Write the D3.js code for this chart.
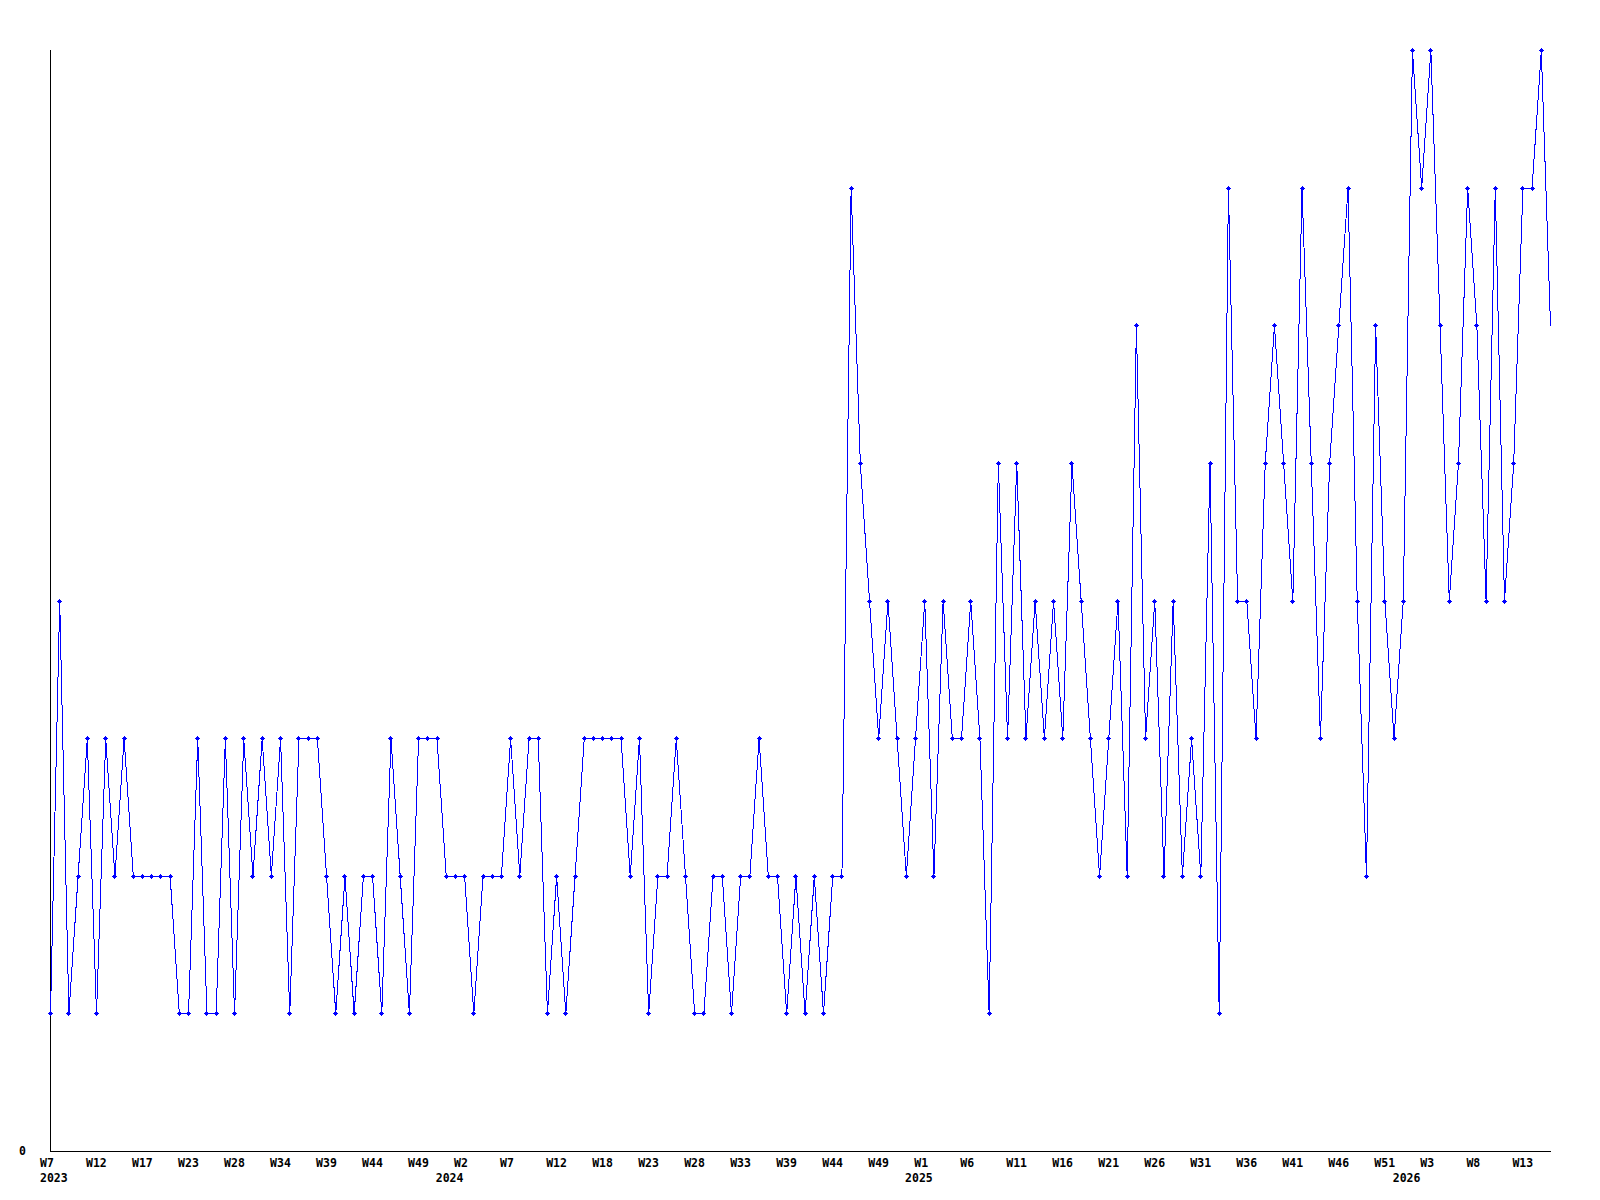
<!DOCTYPE html>
<html>
<head>
<meta charset="utf-8">
<script src="https://cdn.jsdelivr.net/npm/d3@7/dist/d3.min.js"></script>
<style>
  html, body { margin: 0; padding: 0; background: #fff; }
  svg { display: block; }
  .axis text { font-family: "DejaVu Sans Mono", monospace; font-weight: bold; font-size: 11.5px; fill: #000; }
  .axis path { stroke: #000; stroke-width: 1; shape-rendering: crispEdges; }
</style>
</head>
<body>
<svg id="chart" width="1600" height="1200"></svg>
<script>
// weekly counts, 2023 W7 onwards (last week still running)
const values = [
  1, 4, 1, 2, 3, 1, 3, 2, 3, 2, 2, 2, 2, 2, 1, 1, 3, 1, 1, 3,
  1, 3, 2, 3, 2, 3, 1, 3, 3, 3, 2, 1, 2, 1, 2, 2, 1, 3, 2, 1,
  3, 3, 3, 2, 2, 2, 1, 2, 2, 2, 3, 2, 3, 3, 1, 2, 1, 2, 3, 3,
  3, 3, 3, 2, 3, 1, 2, 2, 3, 2, 1, 1, 2, 2, 1, 2, 2, 3, 2, 2,
  1, 2, 1, 2, 1, 2, 2, 7, 5, 4, 3, 4, 3, 2, 3, 4, 2, 4, 3, 3,
  4, 3, 1, 5, 3, 5, 3, 4, 3, 4, 3, 5, 4, 3, 2, 3, 4, 2, 6, 3,
  4, 2, 4, 2, 3, 2, 5, 1, 7, 4, 4, 3, 5, 6, 5, 4, 7, 5, 3, 5,
  6, 7, 4, 2, 6, 4, 3, 4, 8, 7, 8, 6, 4, 5, 7, 6, 4, 7, 4, 5,
  7, 7, 8, 6
];

// week labels, one every 5 points
const weekTickIdx = [0, 5, 10, 15, 20, 25, 30, 35, 40, 45, 50, 55, 60, 65, 70, 75, 80,
  85, 90, 95, 100, 105, 110, 115, 120, 125, 130, 135, 140, 145, 150, 155, 160];
const weekTickLabels = ["W7", "W12", "W17", "W23", "W28", "W34", "W39", "W44", "W49",
  "W2", "W7", "W12", "W18", "W23", "W28", "W33", "W39", "W44", "W49",
  "W1", "W6", "W11", "W16", "W21", "W26", "W31", "W36", "W41", "W46", "W51",
  "W3", "W8", "W13"];

// year labels
const yearTickIdx = [0, 43, 94, 147];
const yearTickLabels = ["2023", "2024", "2025", "2026"];

const yMax = 8;

const svg = d3.select("#chart");

const x = d3.scaleLinear().domain([0, values.length - 1]).range([50.5, 1550.5]);
const y = d3.scaleLinear().domain([0, yMax]).range([1151.5, 50.5]);

// y axis, only the zero label
svg.append("g")
  .attr("class", "axis")
  .attr("transform", "translate(50,0)")
  .call(d3.axisLeft(y).tickValues([0]).tickFormat(d3.format("d")).tickSize(0).tickPadding(24))
  .call(g => g.select(".domain").attr("d", `M0.5,${y(yMax) - 0.5}V${y(0)}`))
  .call(g => g.selectAll("text").attr("y", -1));

// x axis with week labels
const weekAxis = d3.axisBottom(x)
  .tickValues(weekTickIdx)
  .tickFormat((d, i) => weekTickLabels[i])
  .tickSize(0)
  .tickSizeOuter(0);

svg.append("g")
  .attr("class", "axis")
  .attr("transform", "translate(0,1151)")
  .call(weekAxis)
  .call(g => g.select(".domain").attr("d", `M${x(0) - 0.5},0.5H${x(values.length - 1) + 0.5}`))
  .call(g => g.selectAll("text").attr("text-anchor", "start").attr("x", -11).attr("y", 15.5).attr("dy", 0));

// year labels underneath
svg.append("g")
  .attr("class", "axis")
  .attr("transform", "translate(0,1151)")
  .call(d3.axisBottom(x).tickValues(yearTickIdx).tickFormat((d, i) => yearTickLabels[i]).tickSize(0))
  .call(g => g.select(".domain").remove())
  .call(g => g.selectAll("text").attr("text-anchor", "start").attr("x", -11).attr("y", 30.5).attr("dy", 0));

// the line
const line = d3.line()
  .x((d, i) => x(i))
  .y(d => y(d));

svg.append("path")
  .datum(values)
  .attr("d", line)
  .attr("fill", "none")
  .attr("stroke", "#0000ff")
  .attr("stroke-width", 1)
  .attr("shape-rendering", "crispEdges");

// small markers, the running week has none
const marks = svg.append("g").attr("fill", "#0000ff").attr("shape-rendering", "crispEdges");
const pts = values.slice(0, values.length - 1);

marks.selectAll(".mh")
  .data(pts)
  .enter()
  .append("rect")
  .attr("x", (d, i) => Math.floor(x(i)) - 2)
  .attr("y", d => Math.floor(y(d)))
  .attr("width", 5)
  .attr("height", 1);

marks.selectAll(".mv")
  .data(pts)
  .enter()
  .append("rect")
  .attr("x", (d, i) => Math.floor(x(i)))
  .attr("y", d => Math.floor(y(d)) - 2)
  .attr("width", 1)
  .attr("height", 5);

marks.selectAll(".mc")
  .data(pts)
  .enter()
  .append("rect")
  .attr("x", (d, i) => Math.floor(x(i)) - 1)
  .attr("y", d => Math.floor(y(d)) - 1)
  .attr("width", 3)
  .attr("height", 3);
</script>
</body>
</html>
